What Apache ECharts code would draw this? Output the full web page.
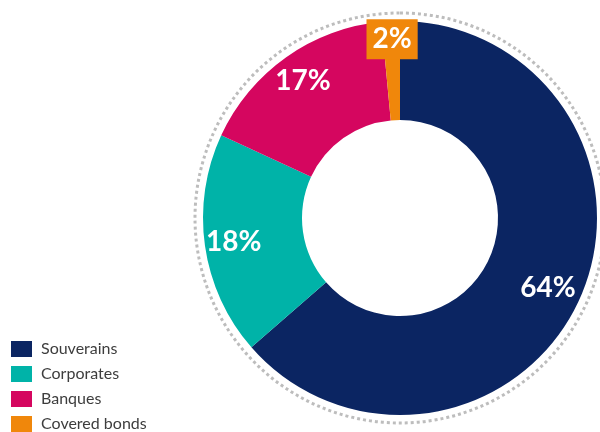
<!DOCTYPE html>
<html>
<head>
<meta charset="utf-8">
<script src="https://cdn.jsdelivr.net/npm/echarts@6/dist/echarts.min.js"></script>
<style>
html,body{margin:0;padding:0;background:#fff;}
#chart{width:600px;height:432px;}
</style>
</head>
<body>
<div id="chart"></div>
<script>
// Data (share of portfolio, %)
const categories = ['Souverains', 'Corporates', 'Banques', 'Covered bonds'];
const shares = [63.6, 18.3, 16.6, 1.5];
const colors = ['#0b2562', '#00b3a8', '#d5065f', '#f0870b'];

const chart = echarts.init(document.getElementById('chart'), null, {renderer: 'canvas'});

const pieData = categories.map((name, i) => ({
  name: name,
  value: shares[i],
  itemStyle: {color: colors[i]}
}));

const labelData = categories.map((name, i) => ({
  name: name,
  value: shares[i],
  itemStyle: {color: 'rgba(0,0,0,0)'},
  label: i === 3 ? {
    backgroundColor: colors[3],
    padding: [2, 6, 10, 6]
  } : {}
}));

const option = {
  animation: false,
  legend: {
    data: categories,
    orient: 'vertical',
    left: 11,
    top: 341,
    height: 91,
    padding: 0,
    itemWidth: 21,
    itemHeight: 16,
    itemGap: 9,
    icon: 'rect',
    selectedMode: false,
    textStyle: {
      fontFamily: 'Lato',
      fontSize: 16,
      color: '#3d3d3d',
      padding: [0, 0, 0, 4]
    }
  },
  series: [
    {
      type: 'pie',
      center: [400, 218],
      radius: [98, 197],
      startAngle: 90,
      clockwise: true,
      silent: true,
      label: {show: false},
      labelLine: {show: false},
      data: pieData,
      z: 2
    },
    {
      type: 'pie',
      center: [400, 218],
      radius: [133, 197],
      startAngle: 90,
      clockwise: true,
      silent: true,
      labelLine: {show: false},
      label: {
        show: true,
        position: 'inside',
        formatter: p => Math.round(p.value) + '%',
        color: '#ffffff',
        fontFamily: 'Lato',
        fontWeight: 'bold',
        fontSize: 28
      },
      labelLayout: function (params) {
        if (params.dataIndex === 3) {
          return {dy: -11};
        }
        if (params.dataIndex === 0) {
          return {dx: -5};
        }
        return {};
      },
      data: labelData,
      z: 3
    },
    {
      type: 'pie',
      center: [400, 218],
      radius: [0, 205],
      silent: true,
      label: {show: false},
      labelLine: {show: false},
      itemStyle: {
        color: 'rgba(0,0,0,0)',
        borderColor: '#bdbdbd',
        borderWidth: 3,
        borderType: 'dotted'
      },
      data: [{name: 'ring', value: 1}],
      z: 1
    }
  ]
};

chart.setOption(option);
</script>
</body>
</html>
